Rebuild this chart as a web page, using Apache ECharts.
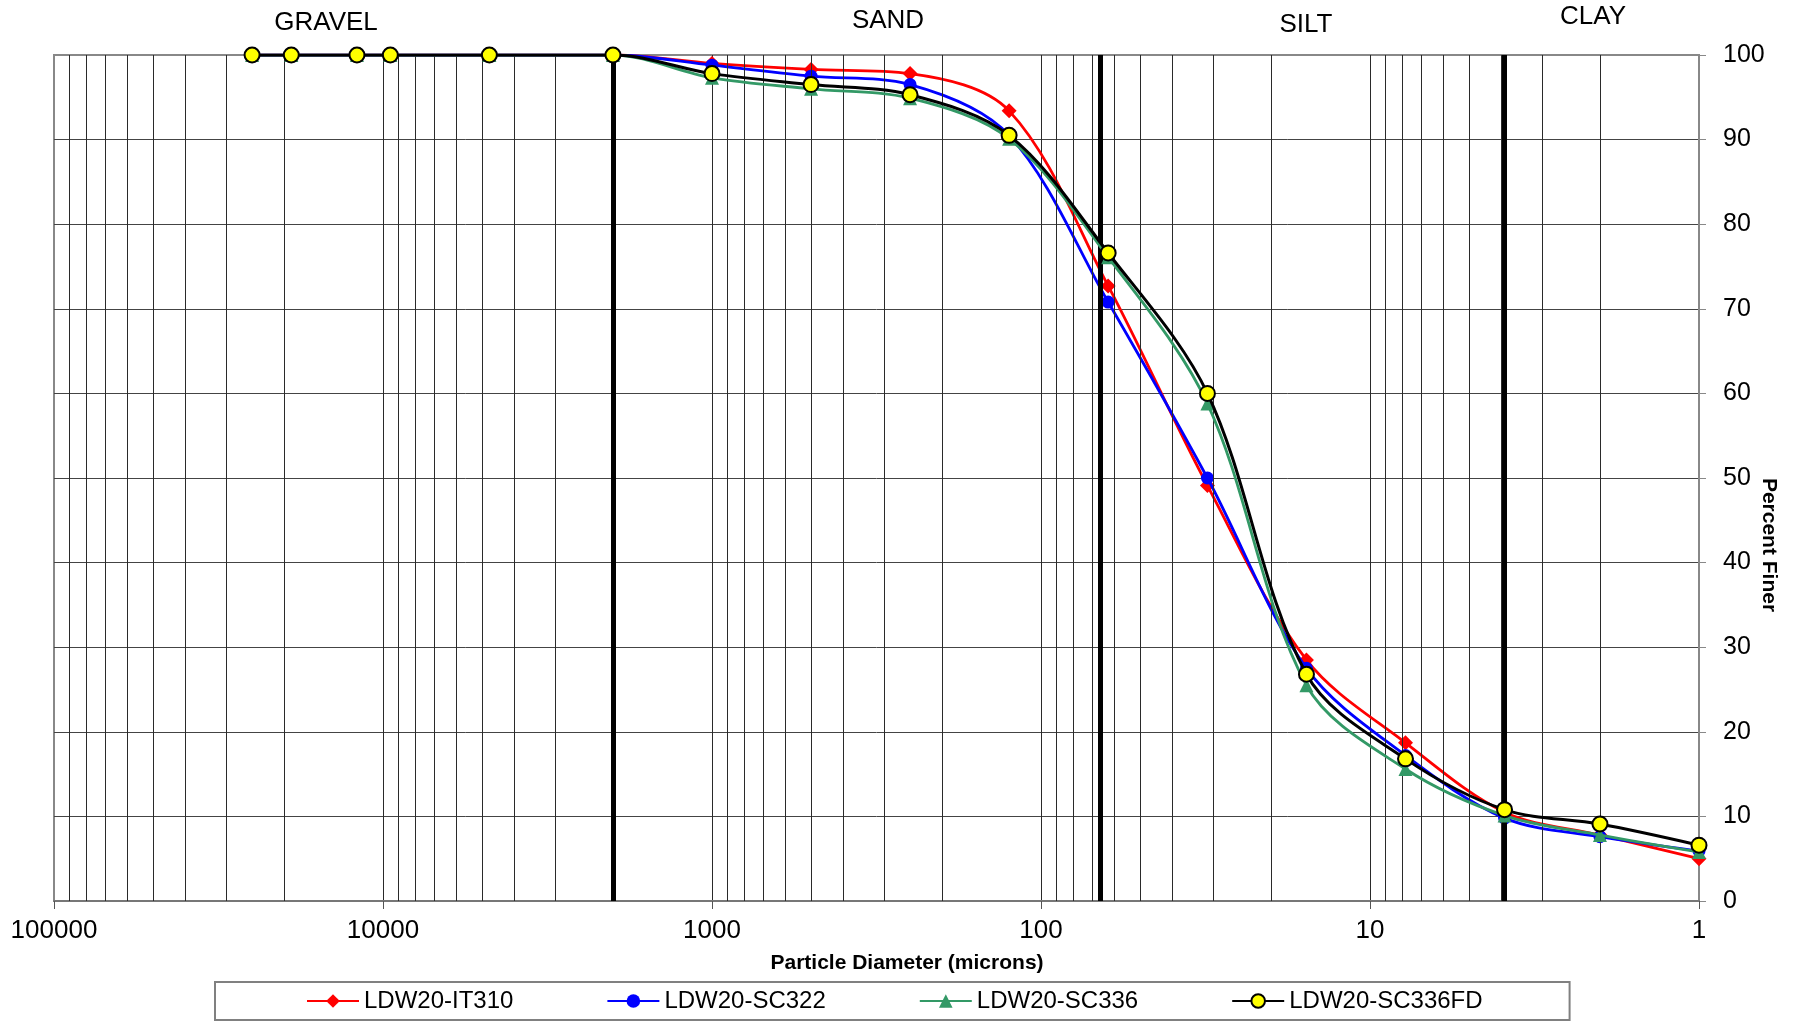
<!DOCTYPE html>
<html>
<head>
<meta charset="utf-8">
<title>Grain Size Distribution</title>
<script src="https://cdn.jsdelivr.net/npm/echarts@6/dist/echarts.min.js"></script>
<style>
  html, body { margin: 0; padding: 0; background: #fff; }
  #chart { width: 1793px; height: 1026px; }
</style>
</head>
<body>
<div id="chart"></div>
<script>
// Particle diameters (microns) of the sieve / hydrometer fractions
const diameters = [25000, 19000, 12000, 9500, 4750, 2000, 1000, 500, 250, 125, 62.5, 31.2, 15.6, 7.8, 3.9, 2.0, 1.0];

// Percent finer for each sample
const it310   = [100, 100, 100, 100, 100, 100, 99.0, 98.3, 97.8, 93.4, 72.7, 49.1, 28.5, 18.7, 10.5, 7.8, 5.0];
const sc322   = [100, 100, 100, 100, 100, 100, 98.8, 97.5, 96.5, 90.5, 70.8, 50.0, 27.5, 17.2, 9.8, 7.6, 5.9];
const sc336   = [100, 100, 100, 100, 100, 100, 97.3, 96.0, 94.9, 90.1, 76.1, 58.8, 25.5, 15.6, 10.1, 7.8, 5.8];
const sc336fd = [100, 100, 100, 100, 100, 100, 97.8, 96.5, 95.3, 90.5, 76.6, 60.0, 26.8, 16.8, 10.8, 9.1, 6.6];

const sampleNames = ['LDW20-IT310', 'LDW20-SC322', 'LDW20-SC336', 'LDW20-SC336FD'];

// Size-class boundaries (microns) and class names
const boundaries = [2000, 66, 3.9];
const classNames = ['GRAVEL', 'SAND', 'SILT', 'CLAY'];

// Axis ranges
const xMin = 1, xMax = 100000;
const yMin = 0, yMax = 100, yStep = 10;

const FONT = "'Liberation Sans', Arial, Helvetica, sans-serif";

// Intermediate log gridlines (2..9 within each decade)
const minorLines = [];
for (let d = xMin; d < xMax; d *= 10) {
  for (let m = 2; m <= 9; m++) minorLines.push(d * m);
}

const pair = (ys) => diameters.map((x, i) => [x, ys[i]]);

const chart = echarts.init(document.getElementById('chart'), null, { renderer: 'canvas' });

const classLabelPos = [
  { x: 326, y: 23 },
  { x: 888, y: 21 },
  { x: 1306, y: 25 },
  { x: 1593, y: 17 }
];

const option = {
  backgroundColor: '#ffffff',
  animation: false,
  textStyle: { fontFamily: FONT },
  grid: {
    left: 54, right: 94, top: 55, bottom: 125,
    show: true, borderColor: '#888', borderWidth: 2, backgroundColor: 'transparent'
  },
  legend: {
    data: sampleNames,
    left: 215, top: 982,
    orient: 'horizontal',
    itemWidth: 52, itemHeight: 17, itemGap: 93,
    padding: [7, 87, 7, 91],
    borderColor: '#808080', borderWidth: 2,
    textStyle: { fontSize: 24, color: '#000', fontFamily: FONT }
  },
  xAxis: {
    type: 'log', logBase: 10, min: xMin, max: xMax, inverse: true,
    position: 'bottom',
    axisLine: { show: true, lineStyle: { color: '#777', width: 2 } },
    axisTick: { show: true, length: 8, inside: false, lineStyle: { color: '#555', width: 1 } },
    axisLabel: {
      fontSize: 26, color: '#000', margin: 17, fontFamily: FONT,
      formatter: (v) => String(Math.round(v))
    },
    splitLine: { show: true, showMaxLine: false, lineStyle: { color: '#2a2a2a', width: 1 } },
    minorTick: { show: false }
  },
  yAxis: {
    type: 'value', min: yMin, max: yMax, interval: yStep,
    position: 'right',
    axisLine: { show: true, lineStyle: { color: '#888', width: 2 } },
    axisTick: { show: true, length: 7, inside: false, lineStyle: { color: '#888', width: 1 } },
    axisLabel: { fontSize: 25, color: '#000', margin: 24, fontFamily: FONT },
    splitLine: { show: true, showMaxLine: false, lineStyle: { color: '#444', width: 1 } }
  },
  graphic: [
    ...classNames.map((t, i) => ({
      type: 'text', x: classLabelPos[i].x, y: classLabelPos[i].y, silent: true,
      style: { text: t, fill: '#000', font: `26px ${FONT}`, align: 'center', verticalAlign: 'middle' }
    })),
    {
      type: 'text', x: 907, y: 963, silent: true,
      style: { text: 'Particle Diameter (microns)', fill: '#000', font: `bold 21px ${FONT}`, align: 'center', verticalAlign: 'middle' }
    },
    {
      type: 'text', x: 1769, y: 545, rotation: -Math.PI / 2, silent: true,
      style: { text: 'Percent Finer', fill: '#000', font: `bold 21px ${FONT}`, align: 'center', verticalAlign: 'middle' }
    }
  ],
  series: [
    {
      name: 'minor-grid', type: 'line', data: [[xMin, yMin]], symbol: 'none', silent: true,
      lineStyle: { opacity: 0 }, z: 1, legendHoverLink: false,
      markLine: {
        silent: true, symbol: 'none', animation: false,
        label: { show: false },
        lineStyle: { color: '#2a2a2a', width: 1, type: 'solid' },
        emphasis: { disabled: true },
        data: minorLines.map((v) => ({ xAxis: v }))
      }
    },
    {
      name: 'class-boundaries', type: 'line', data: [[xMin, yMin]], symbol: 'none', silent: true,
      lineStyle: { opacity: 0 }, z: 2,
      markLine: {
        silent: true, symbol: 'none', animation: false,
        label: { show: false },
        lineStyle: { color: '#000', width: 5, type: 'solid' },
        emphasis: { disabled: true },
        data: boundaries.map((v) => ({ xAxis: v }))
      }
    },
    {
      name: sampleNames[0], type: 'line', data: pair(it310), smooth: 0.33, z: 3,
      symbol: 'diamond', symbolSize: 15, showAllSymbol: true,
      itemStyle: { color: '#FF0000' },
      lineStyle: { color: '#FF0000', width: 2.8 }
    },
    {
      name: sampleNames[1], type: 'line', data: pair(sc322), smooth: 0.33, z: 4,
      symbol: 'circle', symbolSize: 13, showAllSymbol: true,
      itemStyle: { color: '#0000FF' },
      lineStyle: { color: '#0000FF', width: 2.8 }
    },
    {
      name: sampleNames[2], type: 'line', data: pair(sc336), smooth: 0.33, z: 5,
      symbol: 'triangle', symbolSize: 14, showAllSymbol: true,
      itemStyle: { color: '#339966' },
      lineStyle: { color: '#339966', width: 2.8 }
    },
    {
      name: sampleNames[3], type: 'line', data: pair(sc336fd), smooth: 0.33, z: 6,
      symbol: 'circle', symbolSize: 15, showAllSymbol: true,
      itemStyle: { color: '#FFFF00', borderColor: '#000', borderWidth: 2 },
      lineStyle: { color: '#000', width: 3 }
    }
  ]
};

chart.setOption(option);
</script>
</body>
</html>
